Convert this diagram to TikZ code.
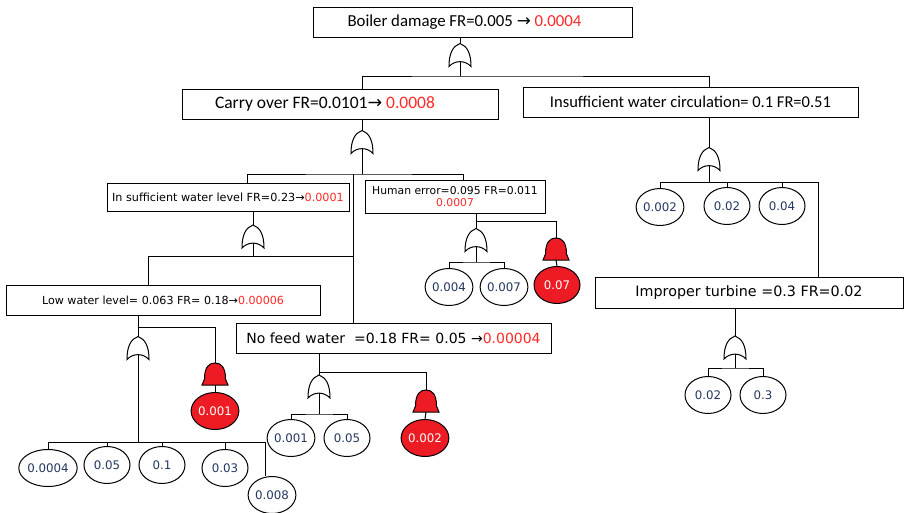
\documentclass[tikz,border=0pt]{standalone}
\usepackage{fontspec}
\setmainfont{Carlito}
\newfontfamily\vfont{DejaVu Sans}
\usetikzlibrary{shapes.geometric}

\definecolor{gatered}{RGB}{237,28,36}
\definecolor{frred}{RGB}{255,40,40}
\definecolor{evtext}{RGB}{35,55,95}
\newcommand{\arr}{{\vfont →}}
\newcommand{\frnew}[1]{\textcolor{frred}{#1}}

\tikzset{
  box/.style={draw, rectangle, inner sep=0pt},
  bigtxt/.style={font=\fontsize{16.8}{18}\selectfont},
  event/.style={draw, ellipse, inner sep=0pt, minimum width=46pt, minimum height=37pt,
    text=evtext, font=\vfont\fontsize{11.8}{13}\selectfont},
  redevent/.style={event, fill=gatered, text=white},
  orgate/.pic={
    \draw (0,-11.5) .. controls (-7,-9) and (-11,-2) .. (-11,11.5)
      .. controls (-5,5) and (5,5) .. (11,11.5)
      .. controls (11,-2) and (7,-9) .. (0,-11.5) -- cycle;
    \coordinate (-top) at (0,-11.5);
    \coordinate (-bot) at (0,6.6);
  },
  andgate/.pic={
    \draw[fill=gatered] (-13,11) -- (-10.5,5) .. controls (-10.5,-7) and (-6,-11) .. (0,-11)
      .. controls (6,-11) and (10.5,-7) .. (10.5,5) -- (13,11) -- cycle;
    \coordinate (-top) at (0,-11);
    \coordinate (-bot) at (0,11);
  }
}

\begin{document}
\begin{tikzpicture}[x=1pt, y=-1pt, line width=1pt]
\useasboundingbox (0,0) rectangle (906,512);

% boxes
\node[box, bigtxt, minimum width=319pt, minimum height=30pt] (boiler) at (472.5,22)
  {\hspace*{-16pt}Boiler damage FR=0.005 \arr\ \frnew{0.0004}};
\node[box, font=\fontsize{17.5}{19}\selectfont, minimum width=316pt, minimum height=30pt] (carry) at (340,104)
  {\hspace*{-30pt}Carry over FR=0.0101\arr\ \frnew{0.0008}};
\node[box, font=\fontsize{16.5}{18}\selectfont, minimum width=335pt, minimum height=30pt] (circ) at (690.5,102)
  {Insufficient water circulation= 0.1 FR=0.51};
\node[box, font=\vfont\fontsize{11.2}{12}\selectfont, minimum width=242pt, minimum height=28pt] (level) at (228,197)
  {In sufficient water level FR=0.23\arr\frnew{0.0001}};
\node[box, font=\vfont\fontsize{10.8}{13}\selectfont, align=center, minimum width=180pt, minimum height=33pt] (human) at (455,196.5)
  {Human error=0.095 FR=0.011\\[-1pt]\frnew{0.0007}};
\node[box, font=\vfont\fontsize{11.1}{12}\selectfont, minimum width=314pt, minimum height=30pt] (low) at (163,300)
  {Low water level= 0.063 FR= 0.18\arr\frnew{0.00006}};
\node[box, font=\vfont\fontsize{14}{16}\selectfont, minimum width=315pt, minimum height=30pt] (nofeed) at (393.5,338)
  {No feed water\ \ =0.18 FR= 0.05 \arr\frnew{0.00004}};
\node[box, font=\vfont\fontsize{14.3}{16}\selectfont, minimum width=308pt, minimum height=31pt] (improper) at (749,292.5)
  {Improper turbine =0.3 FR=0.02};

% gates
\pic (g1) at (460,55) {orgate};
\pic (g2) at (362,142) {orgate};
\pic (g3) at (709,159) {orgate};
\pic (g4) at (253,236.5) {orgate};
\pic (g5) at (476,240) {orgate};
\pic (a1) at (556,249) {andgate};
\pic (g6) at (138,348) {orgate};
\pic (a2) at (215,374) {andgate};
\pic (g7) at (319,386.5) {orgate};
\pic (a3) at (426,401) {andgate};
\pic (g8) at (735,347.5) {orgate};

% basic events
\node[event] (e1) at (48,468) {0.0004};
\node[event] (e2) at (107,465) {0.05};
\node[event] (e3) at (162,465) {0.1};
\node[event] (e4) at (225,468) {0.03};
\node[event] (e5) at (272,495) {0.008};
\node[redevent] (r1) at (215,411) {0.001};
\node[event] (e6) at (449,287) {0.004};
\node[event] (e7) at (504,287) {0.007};
\node[redevent] (r2) at (557,285) {0.07};
\node[event] (e8) at (291,438) {0.001};
\node[event] (e9) at (347,438) {0.05};
\node[redevent] (r3) at (425,438) {0.002};
\node[event] (e10) at (660,207) {0.002};
\node[event] (e11) at (727,206) {0.02};
\node[event] (e12) at (782,206) {0.04};
\node[event] (e13) at (708,395) {0.02};
\node[event] (e14) at (763,395) {0.3};

% junctions
\coordinate (bar1) at (460,76);
\coordinate (bar2) at (362,174);
\coordinate (mid) at (353,174);
\coordinate (bar3) at (253,256);
\coordinate (lowj) at (148,256);
\coordinate (hj) at (476,221);
\coordinate (hb) at (476,262);
\coordinate (lj) at (138,327);
\coordinate (lb) at (265,442);
\coordinate (nj) at (319,372);
\coordinate (nb) at (319,414);
\coordinate (cb) at (818,182);
\coordinate (ib) at (735,368);

% top level
\draw (boiler.south -| g1-top) -- (g1-top);
\draw (g1-bot) -- (bar1);
\draw (carry.north -| g2-top) |- (bar1) -| (circ.north -| g3-top);

% carry over
\draw (carry.south -| g2-top) -- (g2-top);
\draw (g2-bot) -- (bar2);
\draw ([xshift=19pt]level.north) |- (bar2) -| ([xshift=8pt]human.north);
\draw (mid) -- (nofeed.north -| mid);

% insufficient water level
\draw (level.south -| g4-top) -- (g4-top);
\draw (g4-bot) -- (bar3);
\draw (low.north -| lowj) |- (mid |- bar3);

% human error
\draw (human.south -| hj) -- (hj) -| (a1-top);
\draw (hj) -- (g5-top);
\draw (g5-bot) -- (hb);
\draw (e6.north) |- (hb) -| (e7.north);
\draw (a1-bot) -- (r2.north);

% low water level
\draw (low.south -| lj) -- (lj) -| (a2-top);
\draw (lj) -- (g6-top);
\draw (g6-bot) -- (g6-bot |- lb);
\draw (e1.north) |- (lb) -- (lb |- e5.north);
\foreach \e in {e2,e3,e4}
  \draw (\e.north) -- (\e.north |- lb);
\draw (a2-bot) -- (r1.north);

% no feed water
\draw (nofeed.south -| nj) -- (nj) -| (a3-top);
\draw (nj) -- (g7-top);
\draw (g7-bot) -- (nb);
\draw (e8.north) |- (nb) -| (e9.north);
\draw (a3-bot) -- (r3.north);

% insufficient water circulation
\draw (circ.south -| g3-top) -- (g3-top);
\draw (g3-bot) -- (g3-bot |- cb);
\draw (e10.north) |- (cb) -- (cb |- improper.north);
\foreach \e in {e11,e12}
  \draw (\e.north) -- (\e.north |- cb);

% improper turbine
\draw (improper.south -| g8-top) -- (g8-top);
\draw (g8-bot) -- (ib);
\draw (e13.north) |- (ib) -| (e14.north);
\end{tikzpicture}
\end{document}
